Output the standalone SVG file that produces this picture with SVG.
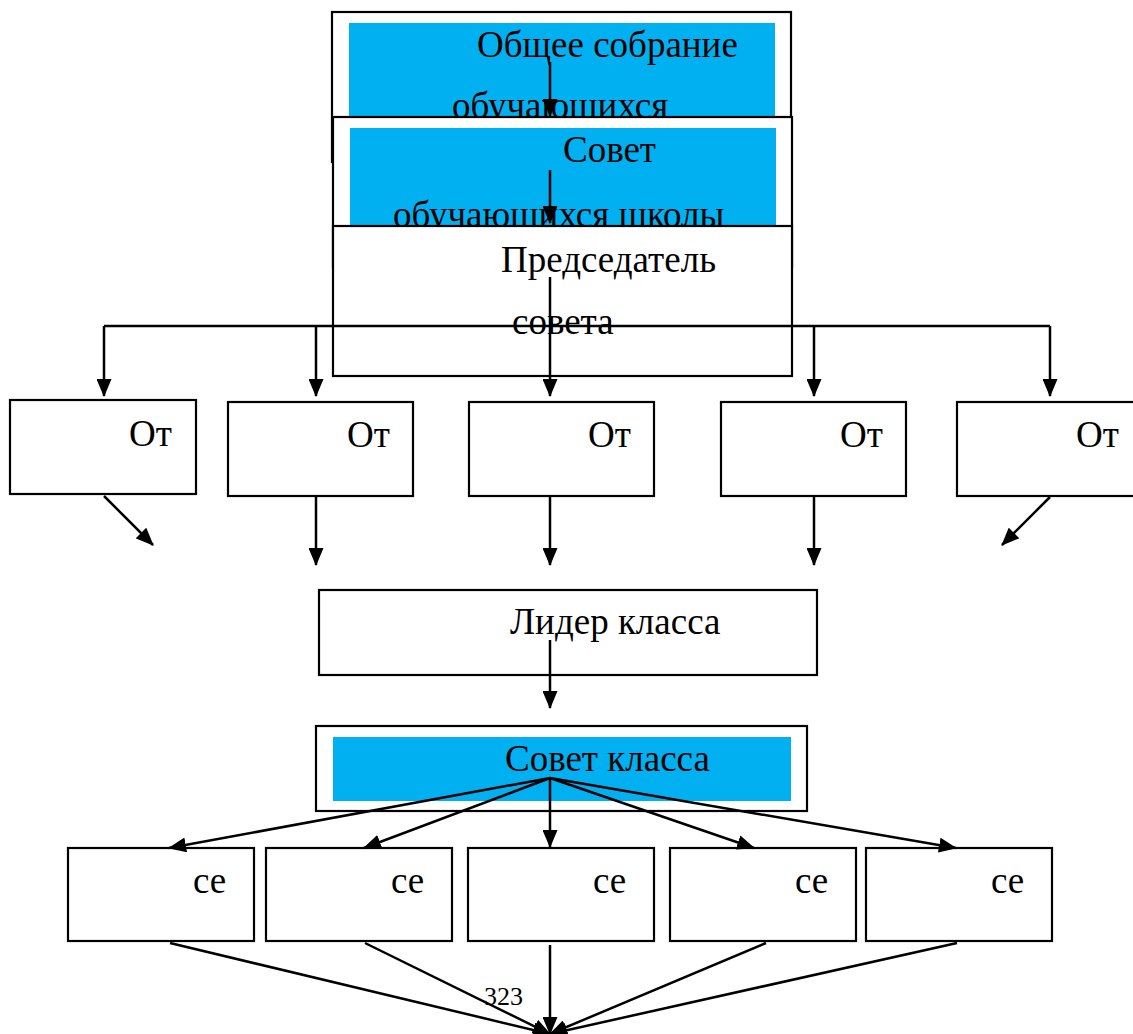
<svg xmlns="http://www.w3.org/2000/svg" width="1133" height="1034" viewBox="0 0 1133 1034">
<style>
.box{fill:#fff;stroke:#000;stroke-width:2.2}
.blue{fill:#00b0f0}
.t{font-family:"Liberation Serif","Times New Roman",serif;font-size:37px;fill:#000}
.ln{stroke:#000;stroke-width:2.5;fill:none;marker-end:url(#ah)}
.pl{stroke:#000;stroke-width:2.5;fill:none}
</style>
<defs>
<marker id="ah" markerUnits="userSpaceOnUse" markerWidth="18" markerHeight="15" viewBox="0 0 18 15" refX="17" refY="7.5" orient="auto">
<path d="M0,0 L18,7.5 L0,15 z" fill="#000"/>
</marker>
</defs>
<rect width="1133" height="1034" fill="#fff"/>
<g id="n-obshee">
<rect class="box" x="332" y="12" width="459" height="150"/>
<rect class="blue" x="349" y="23" width="426" height="100"/>
<text class="t" x="477" y="57">Общее собрание</text>
<text class="t" x="452" y="118">обучающихся</text>
</g>
<g id="n-sovet">
<rect class="box" x="333" y="117" width="459" height="150"/>
<rect class="blue" x="350" y="128" width="426" height="100"/>
<text class="t" x="563" y="162">Совет</text>
<text class="t" x="393" y="227">обучающихся школы</text>
</g>
<g id="n-pred">
<rect class="box" x="333" y="226" width="459" height="150"/>
<text class="t" x="501" y="272">Председатель</text>
<text class="t" x="512" y="334">совета</text>
</g>
<g id="n-ot1"><rect class="box" x="10" y="400" width="186" height="94"/><text class="t" x="129" y="446">От</text></g>
<g id="n-ot2"><rect class="box" x="228" y="402" width="185" height="94"/><text class="t" x="347" y="447">От</text></g>
<g id="n-ot3"><rect class="box" x="469" y="402" width="185" height="94"/><text class="t" x="588" y="447">От</text></g>
<g id="n-ot4"><rect class="box" x="721" y="402" width="185" height="94"/><text class="t" x="840" y="447">От</text></g>
<g id="n-ot5"><rect class="box" x="957" y="402" width="186" height="94"/><text class="t" x="1076" y="447">От</text></g>
<g id="n-lider">
<rect class="box" x="319" y="590" width="498" height="85"/>
<text class="t" x="510" y="634">Лидер класса</text>
</g>
<g id="n-sovetkl">
<rect class="box" x="316" y="726" width="491" height="85"/>
<rect class="blue" x="333" y="737" width="458" height="64"/>
<text class="t" x="505" y="771">Совет класса</text>
</g>
<g id="n-se1"><rect class="box" x="68" y="848" width="186" height="93"/><text class="t" x="193" y="893">се</text></g>
<g id="n-se2"><rect class="box" x="266" y="848" width="186" height="93"/><text class="t" x="391" y="893">се</text></g>
<g id="n-se3"><rect class="box" x="468" y="848" width="186" height="93"/><text class="t" x="593" y="893">се</text></g>
<g id="n-se4"><rect class="box" x="670" y="848" width="186" height="93"/><text class="t" x="795" y="893">се</text></g>
<g id="n-se5"><rect class="box" x="866" y="848" width="186" height="93"/><text class="t" x="991" y="893">се</text></g>
<text class="t" x="484" y="1005" style="font-size:26px">323</text>
<g id="connectors">
<line class="ln" x1="550" y1="62" x2="550" y2="116"/>
<line class="ln" x1="550" y1="170" x2="550" y2="223"/>
<line class="ln" x1="550" y1="277" x2="550" y2="396"/>
<line class="pl" x1="104" y1="326" x2="1050" y2="326"/>
<line class="ln" x1="104" y1="326" x2="104" y2="396"/>
<line class="ln" x1="316" y1="326" x2="316" y2="396"/>
<line class="ln" x1="814" y1="326" x2="814" y2="396"/>
<line class="ln" x1="1050" y1="326" x2="1050" y2="396"/>
<line class="ln" x1="104" y1="496" x2="153" y2="545"/>
<line class="ln" x1="316" y1="497" x2="316" y2="565"/>
<line class="ln" x1="550" y1="497" x2="550" y2="565"/>
<line class="ln" x1="814" y1="497" x2="814" y2="565"/>
<line class="ln" x1="1050" y1="497" x2="1002" y2="545"/>
<line class="ln" x1="550" y1="640" x2="550" y2="708"/>
<line class="ln" x1="550" y1="778" x2="169" y2="848"/>
<line class="ln" x1="550" y1="778" x2="364" y2="848"/>
<line class="ln" x1="550" y1="778" x2="550" y2="847"/>
<line class="ln" x1="550" y1="778" x2="754" y2="848"/>
<line class="ln" x1="550" y1="778" x2="956" y2="848"/>
<line class="ln" x1="170" y1="943" x2="550" y2="1034"/>
<line class="ln" x1="365" y1="943" x2="550" y2="1034"/>
<line class="ln" x1="550" y1="945" x2="550" y2="1034"/>
<line class="ln" x1="766" y1="943" x2="550" y2="1034"/>
<line class="ln" x1="957" y1="943" x2="550" y2="1034"/>
</g>
</svg>
